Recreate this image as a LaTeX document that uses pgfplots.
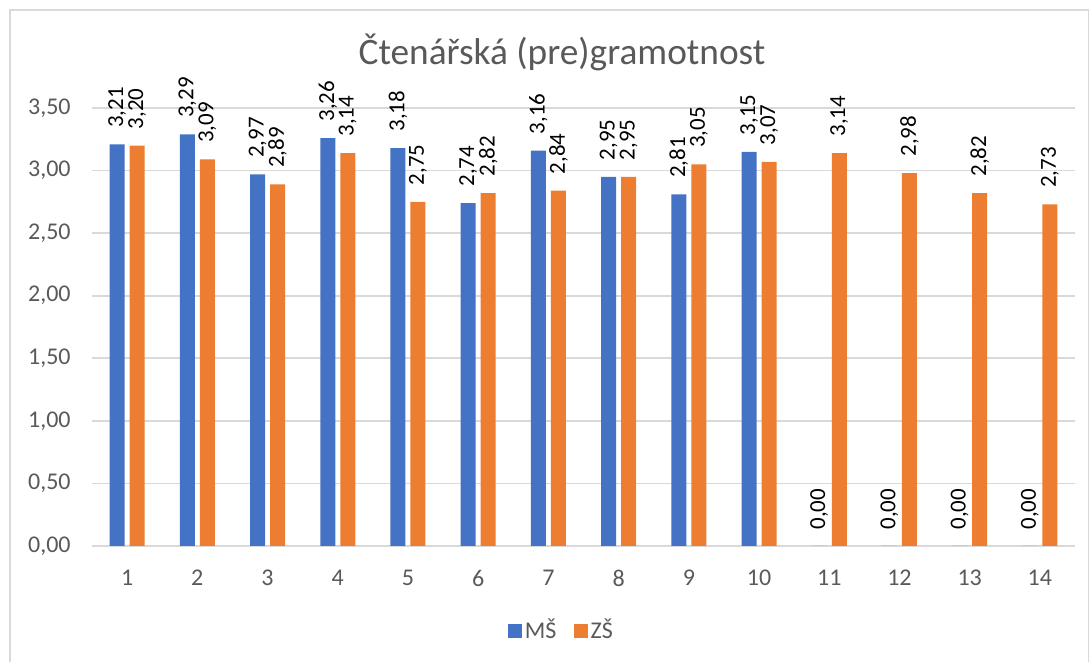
\documentclass[border=0pt]{standalone}
\usepackage{pgfplots}
\pgfplotsset{compat=1.18}
\usepackage{fontspec}
\setmainfont{Carlito}
\definecolor{xblue}{HTML}{4472C4}
\definecolor{xorange}{HTML}{ED7D31}
\definecolor{xtext}{HTML}{595959}
\definecolor{xgrid}{HTML}{D9D9D9}
\begin{document}
\begin{tikzpicture}
\path[use as bounding box] (0,0) rectangle (408.75pt,248.25pt);
\draw[xgrid, line width=0.6pt] (3.75pt,-5pt) -- (3.75pt,244.5pt) -- (408.2pt,244.5pt) -- (408.2pt,-5pt);
\node[font=\fontsize{14}{17}\selectfont, text=xtext, anchor=base] at (210.75pt,223.9pt) {Čtenářská (pre)gramotnost};
\begin{axis}[
  at={(34.5pt,43.5pt)}, anchor=south west, scale only axis,
  width=368.625pt, height=164.25pt,
  ybar=1.875pt, bar width=5.625pt,
  xmin=0.5, xmax=14.5, ymin=0, ymax=3.5,
  ytick={0,0.5,1,1.5,2,2.5,3,3.5},
  xtick={1,2,3,4,5,6,7,8,9,10,11,12,13,14},
  xticklabels={1,2,3,4,5,6,7,8,9,10,11,12,13,14},
  axis line style={draw=none},
  ymajorgrids, grid style={xgrid, line width=0.6pt},
  major tick length=0pt,
  tick label style={font=\fontsize{9}{11}\selectfont, text=xtext},
  yticklabel style={xshift=-4.5pt},
  xticklabel style={yshift=-5.5pt},
  clip=false,
  nodes near coords,
  nodes near coords style={font=\fontsize{8.6}{10}\selectfont, text=black, rotate=90, anchor=west, inner xsep=6pt, inner ysep=0pt},
  legend columns=2,
  legend style={at={(axis description cs:0.478,-0.194)}, anchor=center, draw=none, fill=none,
    font=\fontsize{9}{11}\selectfont, text=xtext, /tikz/every even column/.append style={column sep=5.5pt},
    nodes={inner sep=1pt}},
  legend image code/.code={\fill[#1] (0pt,-2.6pt) rectangle (5.25pt,2.6pt);},
  /pgf/number format/fixed, /pgf/number format/fixed zerofill,
  /pgf/number format/precision=2, /pgf/number format/use comma,
  /pgf/number format/assume math mode=true,
]
\addplot[fill=xblue, draw=none] coordinates {
 (1,3.21) (2,3.29) (3,2.97) (4,3.26) (5,3.18) (6,2.74) (7,3.16) (8,2.95) (9,2.81) (10,3.15) (11,0) (12,0) (13,0) (14,0)};
\addplot[fill=xorange, draw=none] coordinates {
 (1,3.20) (2,3.09) (3,2.89) (4,3.14) (5,2.75) (6,2.82) (7,2.84) (8,2.95) (9,3.05) (10,3.07) (11,3.14) (12,2.98) (13,2.82) (14,2.73)};
\legend{MŠ, ZŠ}
\end{axis}
\end{tikzpicture}
\end{document}
